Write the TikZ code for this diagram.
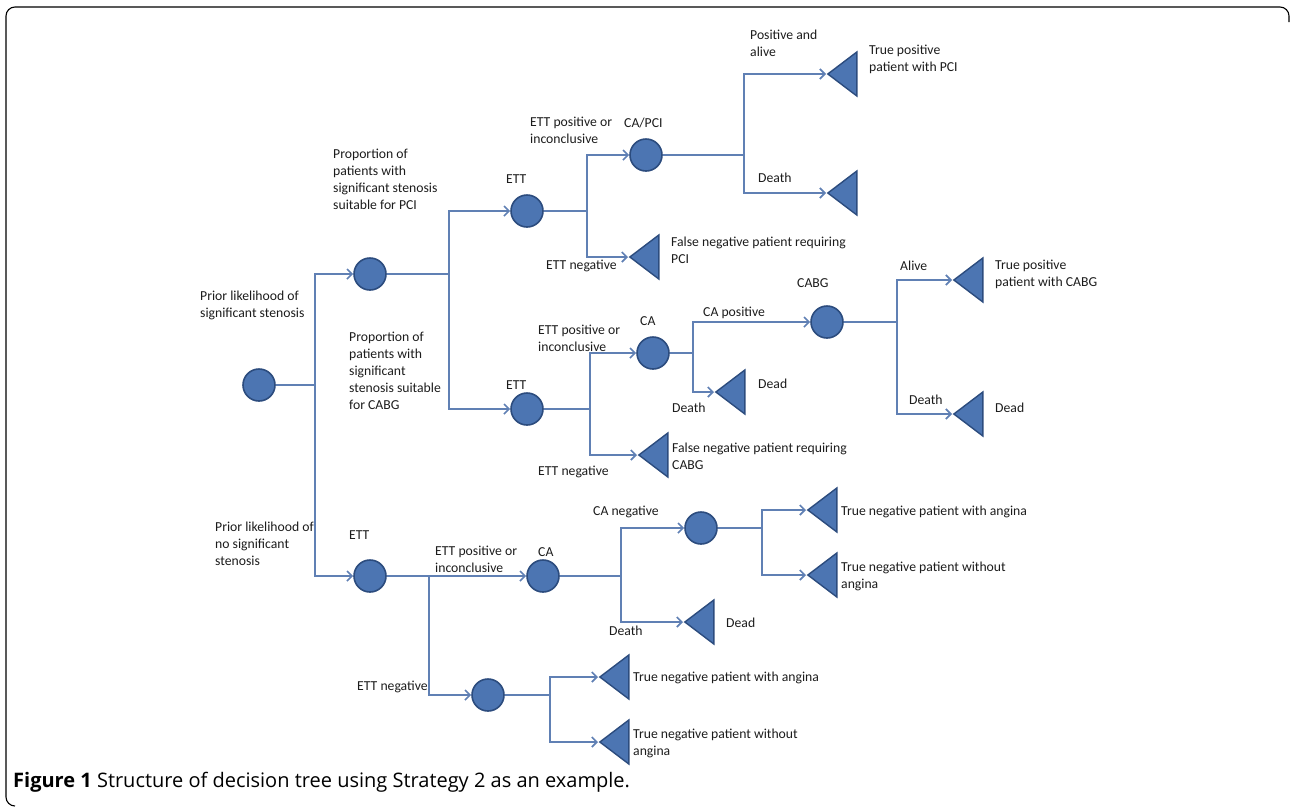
\documentclass[tikz,border=0pt]{standalone}
\usepackage{fontspec}
\usetikzlibrary{shapes.geometric,arrows.meta}
\newfontfamily\treefont{Carlito}
\newfontfamily\capfont{Open Sans}
\definecolor{nodeblue}{RGB}{76,117,178}
\definecolor{nodeedge}{RGB}{44,76,126}
\definecolor{linkblue}{RGB}{96,128,180}
\definecolor{txtgray}{RGB}{28,28,28}
\newcommand{\treesize}{\treefont\fontsize{13.7}{17}\selectfont}
\newcommand{\capsize}{\capfont\fontsize{20}{23}\selectfont}

\begin{document}
\begin{tikzpicture}[x=1pt,y=-1pt]
	% formatos
	\tikzstyle{every node}=[inner sep=0pt, font=\treesize, text=txtgray]
	\tikzstyle{chance} = [circle, draw=nodeedge, fill=nodeblue, line width=1.6pt, minimum size=32pt]
	\tikzstyle{outcome} = [isosceles triangle, shape border rotate=180, isosceles triangle stretches, draw=nodeedge, fill=nodeblue, line width=1.4pt, minimum width=44pt, minimum height=29pt, anchor=apex]
	\tikzstyle{txt} = [align=left, anchor=west]
	\tikzstyle{branch} = [draw=linkblue, line width=1.7pt]
	\tikzstyle{arrow} = [branch, -{Straight Barb[length=5pt,width=10pt]}]
	\useasboundingbox (0,0) rectangle (1290,807);
	% marco
	\draw [line width=1.1pt, rounded corners=9pt] (15,806) -- (6,806) -- (6,7) -- (1289,7) -- (1289,22);
	% nodos de azar
	\node [chance] (root) at (259,385) {};
	\node [chance] (pci) at (370,274) {};
	\node [chance] (ettB) at (370,576) {};
	\node [chance] (ettP) at (527,211) {};
	\node [chance] (ettC) at (527,409) {};
	\node [chance] (caPCI) at (646,155) {};
	\node [chance] (caC) at (653,353) {};
	\node [chance] (cabg) at (827,322) {};
	\node [chance] (caN) at (543,576) {};
	\node [chance] (negCA) at (701,528) {};
	\node [chance] (negETT) at (488,695) {};
	% nodos finales
	\node [outcome] (tpPCI) at (826,74) {};
	\node [outcome] (deadPCI) at (826,193) {};
	\node [outcome] (fnPCI) at (628,257) {};
	\node [outcome] (fnCABG) at (637,455) {};
	\node [outcome] (deadCA) at (714,392) {};
	\node [outcome] (tpCABG) at (952,280) {};
	\node [outcome] (deadCABG) at (952,414) {};
	\node [outcome] (deadN) at (683,622) {};
	\node [outcome] (tnA1) at (806,510) {};
	\node [outcome] (tnW1) at (806,575) {};
	\node [outcome] (tnA2) at (598,677) {};
	\node [outcome] (tnW2) at (598,742) {};
	% bifurcaciones
	\coordinate (s0) at (315,385);
	\coordinate (s1) at (449,274);
	\coordinate (s2) at (587,211);
	\coordinate (s3) at (744,155);
	\coordinate (s4) at (590,409);
	\coordinate (s5) at (693,353);
	\coordinate (s6) at (897,322);
	\coordinate (s7) at (429,576);
	\coordinate (s8) at (621,576);
	\coordinate (s9) at (762,528);
	\coordinate (s10) at (550,695);
	% relaciones
	\draw [branch] (root) -- (s0);
	\draw [arrow] (s0) |- (pci);
	\draw [arrow] (s0) |- (ettB);
	\draw [branch] (pci) -- (s1);
	\draw [arrow] (s1) |- (ettP);
	\draw [arrow] (s1) |- (ettC);
	\draw [branch] (ettP) -- (s2);
	\draw [arrow] (s2) |- (caPCI);
	\draw [arrow] (s2) |- (fnPCI.apex);
	\draw [branch] (caPCI) -- (s3);
	\draw [arrow] (s3) |- (tpPCI.apex);
	\draw [arrow] (s3) |- (deadPCI.apex);
	\draw [branch] (ettC) -- (s4);
	\draw [arrow] (s4) |- (caC);
	\draw [arrow] (s4) |- (fnCABG.apex);
	\draw [branch] (caC) -- (s5);
	\draw [arrow] (s5) |- (cabg);
	\draw [arrow] (s5) |- (deadCA.apex);
	\draw [branch] (cabg) -- (s6);
	\draw [arrow] (s6) |- (tpCABG.apex);
	\draw [arrow] (s6) |- (deadCABG.apex);
	\draw [arrow] (ettB) -- (caN);
	\draw [arrow] (s7) |- (negETT);
	\draw [branch] (caN) -- (s8);
	\draw [arrow] (s8) |- (negCA);
	\draw [arrow] (s8) |- (deadN.apex);
	\draw [branch] (negCA) -- (s9);
	\draw [arrow] (s9) |- (tnA1.apex);
	\draw [arrow] (s9) |- (tnW1.apex);
	\draw [branch] (negETT) -- (s10);
	\draw [arrow] (s10) |- (tnA2.apex);
	\draw [arrow] (s10) |- (tnW2.apex);
	% textos
	\node [txt] (tPos) at (750,43.5) {Positive and\\alive};
	\node [txt] (tTpPCI) at (869,59) {True positive\\patient with PCI};
	\node [txt] (tCaPCI) at (624,123) {CA/PCI};
	\node [txt] (tEttPos1) at (530,130.5) {ETT positive or\\inconclusive};
	\node [txt] (tDeath1) at (758,178) {Death};
	\node [txt] (tEtt1) at (506,179) {ETT};
	\node [txt] (tPropPCI) at (333,179.5) {Proportion of\\patients with\\significant stenosis\\suitable for PCI};
	\node [txt] (tFnPCI) at (671,250) {False negative patient requiring\\PCI};
	\node [txt] (tEttNeg1) at (546,266) {ETT negative};
	\node [txt] (tPrior) at (200,305.5) {Prior likelihood of\\significant stenosis};
	\node [txt] (tAlive) at (900,266) {Alive};
	\node [txt] (tTpCABG) at (995,274.5) {True positive\\patient with CABG};
	\node [txt] (tCabg) at (797,283) {CABG};
	\node [txt] (tCaPos) at (703,313) {CA positive};
	\node [txt] (tCa1) at (640,321) {CA};
	\node [txt] (tEttPos2) at (538,338) {ETT positive or\\inconclusive};
	\node [txt] (tPropCABG) at (349,371) {Proportion of\\patients with\\significant\\stenosis suitable\\for CABG};
	\node [txt] (tEtt2) at (506,385) {ETT};
	\node [txt] (tDead1) at (758,384) {Dead};
	\node [txt] (tDeath2) at (672,408) {Death};
	\node [txt] (tDeath3) at (909,400) {Death};
	\node [txt] (tDead2) at (995,408) {Dead};
	\node [txt] (tFnCABG) at (672,456.5) {False negative patient requiring\\CABG};
	\node [txt] (tEttNeg2) at (538,472) {ETT negative};
	\node [txt] (tCaNeg) at (593,512) {CA negative};
	\node [txt] (tTnA1) at (841,512) {True negative patient with angina};
	\node [txt] (tPriorNo) at (215,544) {Prior likelihood of\\no significant\\stenosis};
	\node [txt] (tEtt3) at (349,535) {ETT};
	\node [txt] (tEttPos3) at (435,559.5) {ETT positive or\\inconclusive};
	\node [txt] (tCa2) at (538,552) {CA};
	\node [txt] (tTnW1) at (841,576.5) {True negative patient without\\angina};
	\node [txt] (tDead3) at (726,623) {Dead};
	\node [txt] (tDeath4) at (609,631) {Death};
	\node [txt] (tTnA2) at (633,678) {True negative patient with angina};
	\node [txt] (tEttNeg3) at (357,687) {ETT negative};
	\node [txt] (tTnW2) at (633,743.5) {True negative patient without\\angina};
	% leyenda
	\node [anchor=base west, font=\capsize, text=black] (cap) at (13,787) {\textbf{Figure 1} Structure of decision tree using Strategy 2 as an example.};
\end{tikzpicture}
\end{document}
